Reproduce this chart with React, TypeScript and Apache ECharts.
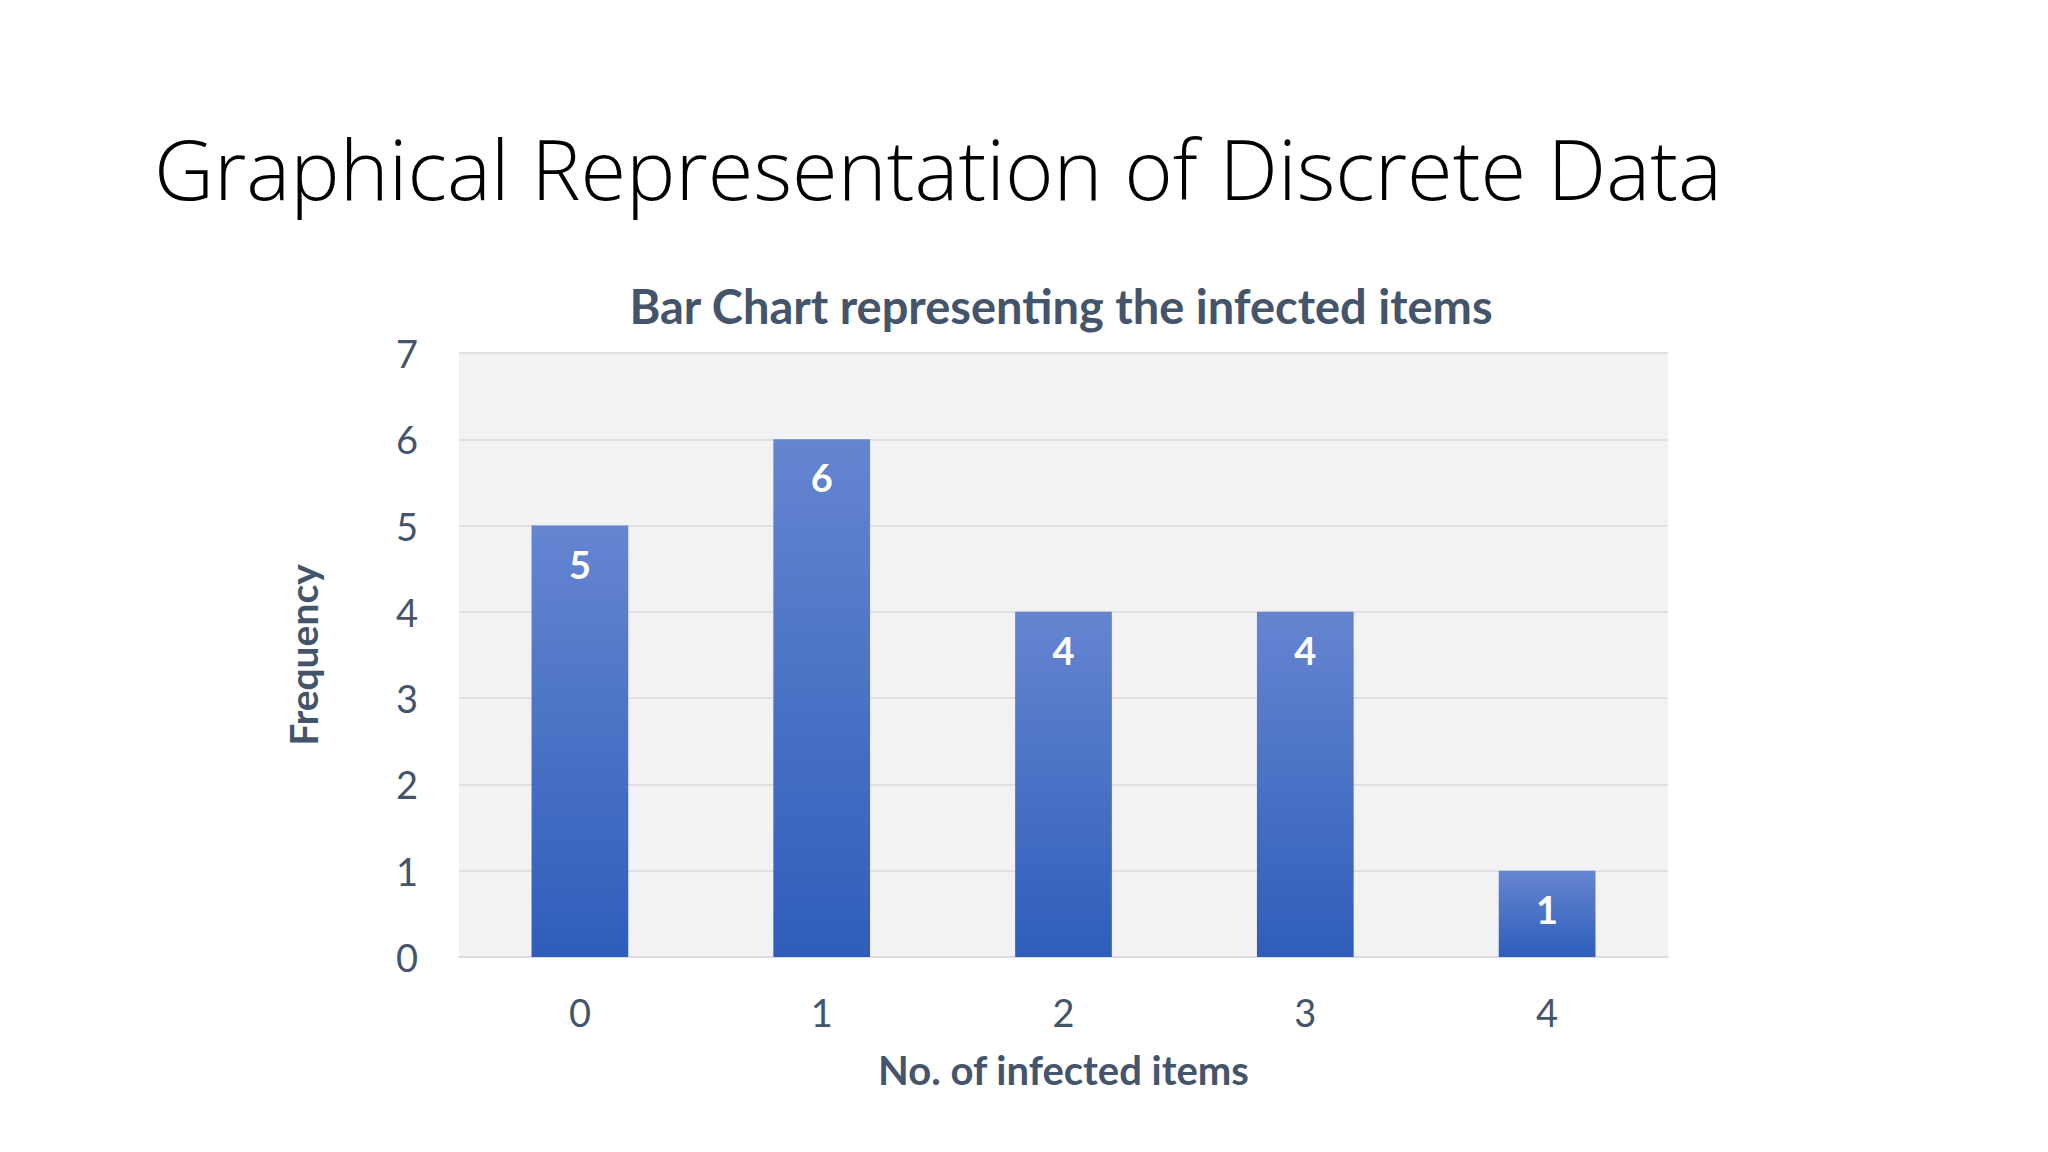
import React, { useEffect, useRef } from "react";
import * as echarts from "echarts";

const pageTitle = "Graphical Representation of Discrete Data";
const chartTitle = "Bar Chart representing the infected items";
const categories = ["0", "1", "2", "3", "4"];
const frequencies = [5, 6, 4, 4, 1];
const xAxisName = "No. of infected items";
const yAxisName = "Frequency";

const FONT = "Lato, 'Open Sans', sans-serif";
const TITLE_FONT = "'Open Sans', Lato, sans-serif";
const SLATE = "#44546A";

export default function App() {
  const ref = useRef<HTMLDivElement>(null);

  useEffect(() => {
    if (!ref.current) return;
    const chart = echarts.init(ref.current, undefined, { renderer: "svg" });
    chart.setOption({
      animation: false,
      backgroundColor: "#FFFFFF",
      textStyle: { fontFamily: FONT },
      graphic: [
        {
          type: "text",
          x: 154,
          y: 167,
          style: {
            text: pageTitle,
            fontFamily: TITLE_FONT,
            fontWeight: 300,
            fontSize: 83,
            fill: "#000000",
            verticalAlign: "middle",
          },
        },
        {
          type: "text",
          x: 1061,
          y: 306,
          style: {
            text: chartTitle,
            fontFamily: FONT,
            fontWeight: 700,
            fontSize: 47,
            fill: SLATE,
            align: "center",
            verticalAlign: "middle",
          },
        },
      ],
      grid: {
        left: 459,
        right: 380,
        top: 353,
        bottom: 195,
        show: true,
        backgroundColor: "#F2F2F4",
        borderWidth: 0,
        containLabel: false,
      },
      xAxis: {
        type: "category",
        data: categories,
        name: xAxisName,
        nameLocation: "middle",
        nameGap: 93,
        nameTextStyle: { color: SLATE, fontSize: 40, fontWeight: 700, fontFamily: FONT },
        axisTick: { show: false },
        axisLine: { lineStyle: { color: "#DCDCDE", width: 2 } },
        axisLabel: { color: SLATE, fontSize: 38, margin: 36, fontFamily: FONT },
      },
      yAxis: {
        type: "value",
        min: 0,
        max: 7,
        interval: 1,
        name: yAxisName,
        nameLocation: "middle",
        nameGap: 137,
        nameTextStyle: { color: SLATE, fontSize: 39, fontWeight: 700, fontFamily: FONT },
        axisLine: { show: false },
        axisTick: { show: false },
        axisLabel: { color: SLATE, fontSize: 38, margin: 41, fontFamily: FONT },
        splitLine: { lineStyle: { color: "#E0E0E2", width: 2 } },
      },
      series: [
        {
          type: "bar",
          data: frequencies,
          barWidth: "40%",
          itemStyle: {
            color: new echarts.graphic.LinearGradient(0, 0, 0, 1, [
              { offset: 0, color: "#6585D0" },
              { offset: 1, color: "#2E5EBA" },
            ]),
          },
          label: {
            show: true,
            position: "insideTop",
            distance: 19,
            color: "#FFFFFF",
            fontSize: 38,
            fontWeight: 700,
            fontFamily: FONT,
          },
        },
      ],
    });
    return () => chart.dispose();
  }, []);

  return (
    <div
      ref={ref}
      style={{ position: "absolute", left: 0, top: 0, width: 2048, height: 1152 }}
    />
  );
}
